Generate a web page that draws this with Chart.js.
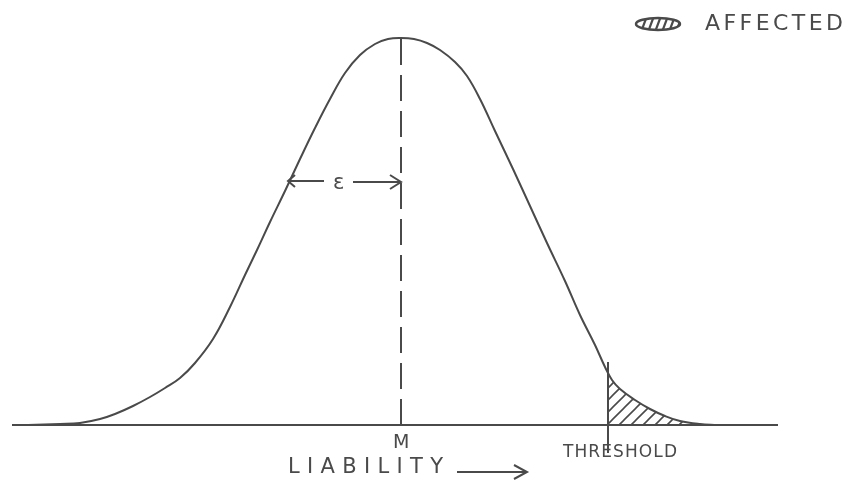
<!DOCTYPE html>
<html>
<head>
<meta charset="utf-8">
<script src="https://cdn.jsdelivr.net/npm/chart.js@4.4.0/dist/chart.umd.min.js"></script>
<style>
html, body { margin: 0; padding: 0; background: #fff; }
</style>
</head>
<body>
<canvas id="myChart" width="847" height="483"></canvas>
<script>
// liability (x) and height above the baseline (y)
let curveX = [28, 60, 80, 100, 115, 133, 150, 165, 180, 195, 213, 230, 245, 257, 270, 285, 300, 315, 330, 345, 360, 375, 388, 401, 414, 427, 440, 455, 467, 480, 495, 513, 530, 547, 565, 580, 595, 605, 612, 620, 635, 650, 665, 680, 700, 717];
let curveY = [0, 1, 2, 6, 11, 19, 28, 37, 47, 62, 86, 118, 150, 175, 203, 234, 266, 297, 326, 352, 370, 381, 386, 387, 386, 382, 375, 363, 349, 326, 294, 256, 219, 182, 144, 110, 80, 58, 45, 36, 25, 16, 9, 4, 1, 0];
let tailX = [608, 612, 620, 635, 650, 665, 680, 700, 717];
let tailY = [52, 45, 36, 25, 16, 9, 4, 1, 0];

let baseX = [12, 778];
let meanX = 401;
let meanTop = 387;
let thresholdX = 608;
let thresholdSpan = [-28, 63];
let epsY = 244;

let labels = ['AFFECTED', 'M', 'LIABILITY', 'THRESHOLD', 'ε'];

let ink = '#4a4a4a';
let canvas = document.getElementById('myChart');
let ctx = canvas.getContext('2d');

// diagonal hatching for the affected tail
function makeHatch() {
    let c = document.createElement('canvas');
    c.width = 12; c.height = 12;
    let g = c.getContext('2d');
    g.strokeStyle = ink;
    g.lineWidth = 1.6;
    g.beginPath();
    g.moveTo(0, 12); g.lineTo(12, 0);
    g.moveTo(-6, 6); g.lineTo(6, -6);
    g.moveTo(6, 18); g.lineTo(18, 6);
    g.stroke();
    return ctx.createPattern(c, 'repeat');
}

// little hatched ellipse used as the key symbol
function makeKey() {
    let c = document.createElement('canvas');
    c.width = 50; c.height = 16;
    let g = c.getContext('2d');
    g.strokeStyle = ink;
    g.lineWidth = 2.5;
    g.beginPath();
    g.ellipse(25, 8, 22, 6, 0, 0, Math.PI * 2);
    g.stroke();
    g.save();
    g.clip();
    g.lineWidth = 2.2;
    for (let i = 0; i < 6; i++) {
        g.beginPath();
        g.moveTo(8 + i * 7, 16);
        g.lineTo(14 + i * 7, 0);
        g.stroke();
    }
    g.restore();
    return c;
}

function pts(xs, ys) {
    return xs.map((x, i) => ({x: x, y: ys[i]}));
}

function seg(style) {
    return Object.assign({
        showLine: true,
        borderColor: ink,
        borderWidth: 2,
        pointRadius: 0,
        fill: false
    }, style);
}

// text labels, placed in data units (left edge, right edge, centre height)
let notes = [
    {text: labels[0], x0: 705, x1: 843, y: 401, size: 22},
    {text: labels[1], x0: 393, x1: 411, y: -18, size: 19},
    {text: labels[2], x0: 288, x1: 443, y: -43, size: 21},
    {text: labels[3], x0: 563, x1: 677, y: -28, size: 17},
    {text: labels[4], x0: 333, x1: 347, y: 241, size: 21}
];

const handText = {
    id: 'handText',
    afterDatasetsDraw(chart) {
        let c = chart.ctx;
        let sx = chart.scales.x, sy = chart.scales.y;
        c.save();
        c.fillStyle = ink;
        c.textBaseline = 'middle';
        c.textAlign = 'left';
        notes.forEach(n => {
            c.font = n.size + 'px "DejaVu Sans"';
            c.letterSpacing = '0px';
            let left = sx.getPixelForValue(n.x0);
            let target = sx.getPixelForValue(n.x1) - left;
            let w = c.measureText(n.text).width;
            let count = [...n.text].length;
            if (count > 1) {
                c.letterSpacing = ((target - w) / (count - 1)) + 'px';
            }
            c.fillText(n.text, left, sy.getPixelForValue(n.y));
        });
        c.restore();
    }
};

let chart = new Chart(ctx, {
    type: 'scatter',
    data: {
        datasets: [
            seg({data: pts(baseX, [0, 0])}),
            seg({data: pts(tailX, tailY), borderWidth: 0, backgroundColor: makeHatch(), fill: 'origin', tension: 0.4}),
            seg({data: pts(curveX, curveY), tension: 0.4}),
            seg({data: [{x: meanX, y: 0}, {x: meanX, y: meanTop}], borderDash: [26, 10]}),
            seg({data: [{x: meanX, y: 0}, {x: meanX, y: 18}]}),
            seg({data: [{x: thresholdX, y: thresholdSpan[0]}, {x: thresholdX, y: thresholdSpan[1]}]}),
            // epsilon arrows
            seg({data: [{x: 295, y: epsY + 6}, {x: 288, y: epsY}, {x: 295, y: epsY - 6}]}),
            seg({data: [{x: 288, y: epsY}, {x: 324, y: epsY}]}),
            seg({data: [{x: 353, y: epsY - 1}, {x: 401, y: epsY - 1}]}),
            seg({data: [{x: 390, y: epsY + 6}, {x: 401, y: epsY - 1}, {x: 390, y: epsY - 8}]}),
            // liability arrow
            seg({data: [{x: 457, y: -47}, {x: 526, y: -47}]}),
            seg({data: [{x: 514, y: -40}, {x: 527, y: -47}, {x: 514, y: -54}]}),
            // key symbol
            {data: [{x: 658, y: 401}], pointStyle: makeKey(), pointRadius: 10, showLine: false}
        ]
    },
    options: {
        responsive: false,
        animation: false,
        layout: {padding: 0, autoPadding: false},
        plugins: {
            legend: {display: false},
            tooltip: {enabled: false}
        },
        scales: {
            x: {type: 'linear', min: 0, max: 847, display: false},
            y: {type: 'linear', min: -58, max: 425, display: false}
        }
    },
    plugins: [handText]
});
</script>
</body>
</html>
